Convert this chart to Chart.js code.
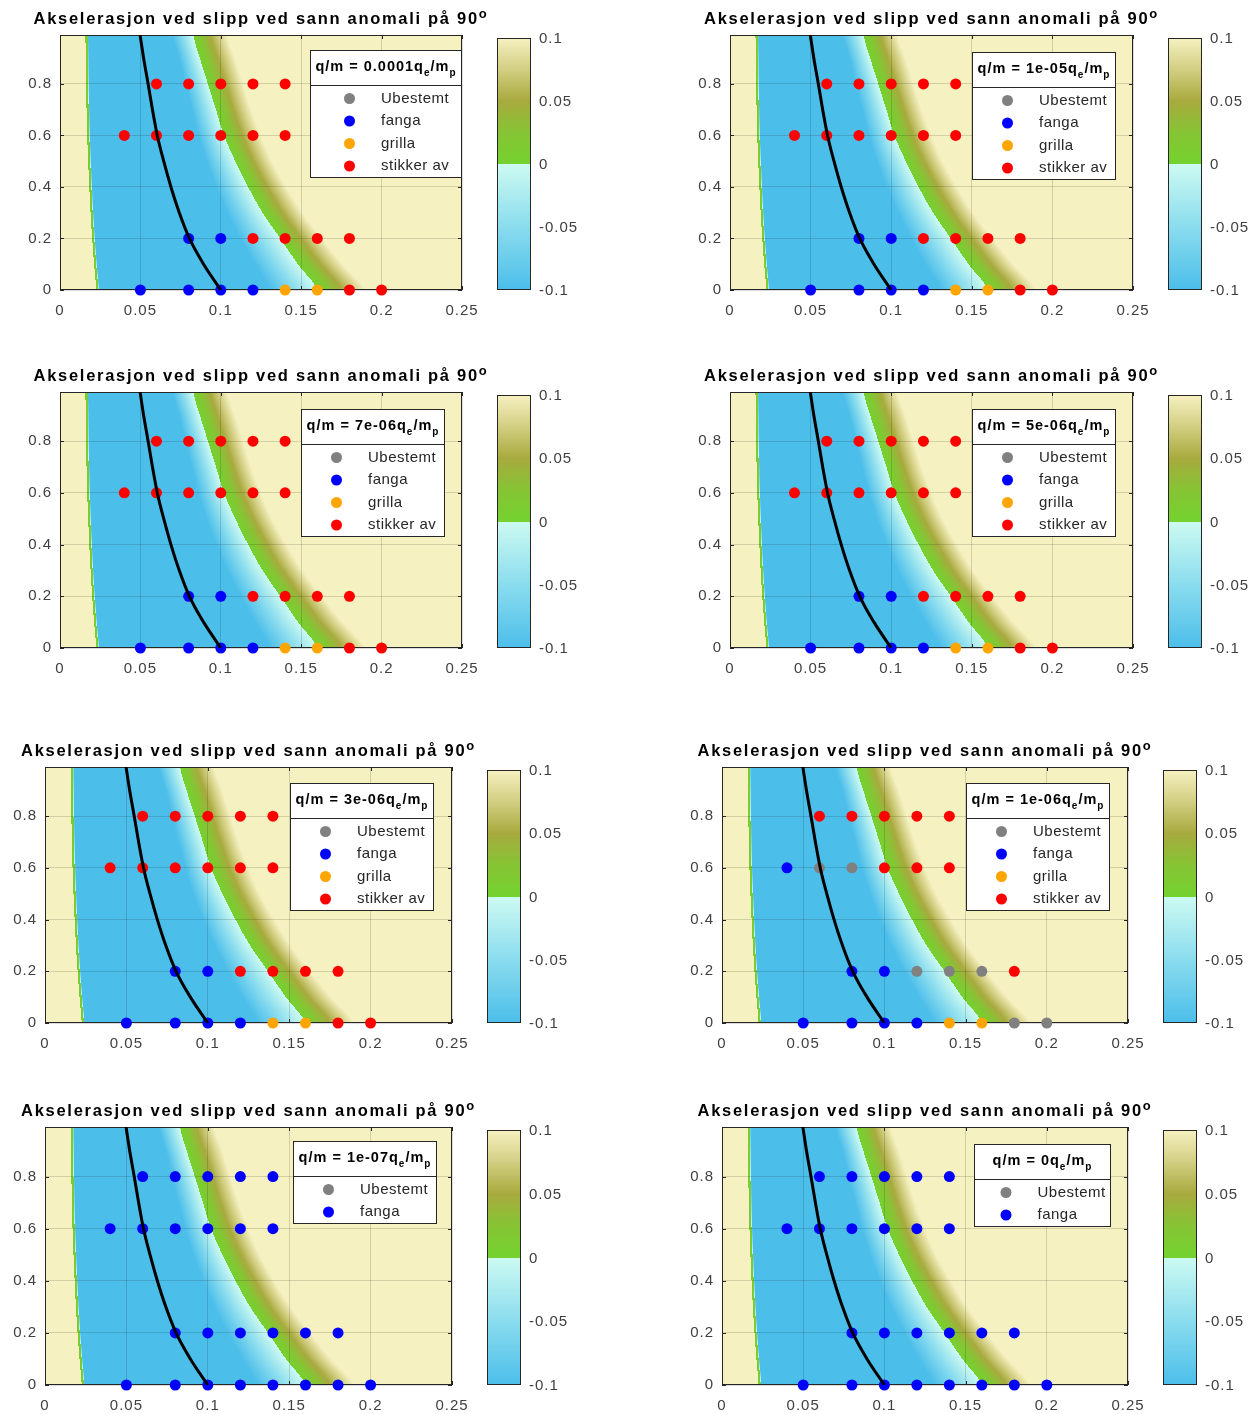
<!DOCTYPE html>
<html lang="no">
<head>
<meta charset="utf-8">
<title>Akselerasjon ved slipp ved sann anomali på 90°</title>
<script src="https://cdn.jsdelivr.net/npm/chart.js@4.4.1/dist/chart.umd.min.js"></script>
<style>
  html, body { margin: 0; padding: 0; background: #fff; }
  #side { position: relative; width: 1258px; height: 1414px; overflow: hidden; }
  #side canvas { position: absolute; }
</style>
</head>
<body>
<div id="side"></div>
<script>
// Startpunkt for banene (samme rutenett i alle panelene)
const startX = [0.06, 0.08, 0.10, 0.12, 0.14,
                0.04, 0.06, 0.08, 0.10, 0.12, 0.14,
                0.08, 0.10, 0.12, 0.14, 0.16, 0.18,
                0.05, 0.08, 0.10, 0.12, 0.14, 0.16, 0.18, 0.20];
const startY = [0.8, 0.8, 0.8, 0.8, 0.8,
                0.6, 0.6, 0.6, 0.6, 0.6, 0.6,
                0.2, 0.2, 0.2, 0.2, 0.2, 0.2,
                0, 0, 0, 0, 0, 0, 0, 0];

// Utfall for hvert startpunkt: 0 = Ubestemt, 1 = fanga, 2 = grilla, 3 = stikker av
const utfall_1e4 = [3, 3, 3, 3, 3,  3, 3, 3, 3, 3, 3,  1, 1, 3, 3, 3, 3,  1, 1, 1, 1, 2, 2, 3, 3];
const utfall_1e5 = [3, 3, 3, 3, 3,  3, 3, 3, 3, 3, 3,  1, 1, 3, 3, 3, 3,  1, 1, 1, 1, 2, 2, 3, 3];
const utfall_7e6 = [3, 3, 3, 3, 3,  3, 3, 3, 3, 3, 3,  1, 1, 3, 3, 3, 3,  1, 1, 1, 1, 2, 2, 3, 3];
const utfall_5e6 = [3, 3, 3, 3, 3,  3, 3, 3, 3, 3, 3,  1, 1, 3, 3, 3, 3,  1, 1, 1, 1, 2, 2, 3, 3];
const utfall_3e6 = [3, 3, 3, 3, 3,  3, 3, 3, 3, 3, 3,  1, 1, 3, 3, 3, 3,  1, 1, 1, 1, 2, 2, 3, 3];
const utfall_1e6 = [3, 3, 3, 3, 3,  1, 0, 0, 3, 3, 3,  1, 1, 0, 0, 0, 3,  1, 1, 1, 1, 2, 2, 0, 0];
const utfall_1e7 = [1, 1, 1, 1, 1,  1, 1, 1, 1, 1, 1,  1, 1, 1, 1, 1, 1,  1, 1, 1, 1, 1, 1, 1, 1];
const utfall_0   = [1, 1, 1, 1, 1,  1, 1, 1, 1, 1, 1,  1, 1, 1, 1, 1, 1,  1, 1, 1, 1, 1, 1, 1, 1];

const qmVerdier = ['0.0001', '1e-05', '7e-06', '5e-06', '3e-06', '1e-06', '1e-07', '0'];
const utfallListe = [utfall_1e4, utfall_1e5, utfall_7e6, utfall_5e6, utfall_3e6, utfall_1e6, utfall_1e7, utfall_0];

const kategorier = ['Ubestemt', 'fanga', 'grilla', 'stikker av'];
const kategoriFarger = ['#808080', '#0000ff', '#ffa500', '#ff0000'];

// Svart kurve (x stigende, y synkende)
const kurveX = [0.0498, 0.0520, 0.0548, 0.0575, 0.0605, 0.0645, 0.0690, 0.0742, 0.0805, 0.0893, 0.1000];
const kurveY = [0.99, 0.9, 0.8, 0.7, 0.6, 0.5, 0.4, 0.3, 0.2, 0.1, 0];

// Akselerasjonsfeltet, gitt som konturer (x-posisjon) for hver y-rad
const feltY    = [0, 0.1, 0.2, 0.3, 0.4, 0.5, 0.6, 0.7, 0.8, 0.9, 0.99];
const feltKant = [0.0238, 0.0225, 0.0213, 0.0203, 0.0195, 0.0188, 0.0182, 0.0178, 0.0175, 0.0173, 0.0171]; // hopp + -> -
const feltBlaa = [0.130, 0.121, 0.112, 0.104, 0.097, 0.091, 0.086, 0.082, 0.078, 0.074, 0.070];           // a = -0.1
const feltNull = [0.160, 0.148, 0.137, 0.126, 0.117, 0.109, 0.102, 0.097, 0.092, 0.087, 0.083];           // a = 0
const feltGul  = [0.190, 0.176, 0.163, 0.151, 0.141, 0.132, 0.125, 0.119, 0.114, 0.109, 0.104];           // a = +0.1

// Fargeskala
const skalaVerdi = [-0.1, -0.05, 0, 0, 0.025, 0.05, 0.075, 0.1];
const skalaRGB = [[76, 190, 234], [138, 220, 238], [205, 250, 241],
                  [116, 210, 46], [134, 196, 52], [168, 170, 62], [210, 206, 130], [246, 241, 193]];
const skalaTicks = [0.1, 0.05, 0, -0.05, -0.1];

// Plassering av lerretene og plottområdene på siden
const kolonner = [{ x: 0, w: 629 }, { x: 640, w: 618 }];
const rader = [{ y: 0, h: 340 }, { y: 352, h: 360 }, { y: 722, h: 355 }, { y: 1080, h: 334 }];
const plottOmr = [[60, 35, 462, 290], [730, 35, 1133, 290],
                  [60, 392, 462, 648], [730, 392, 1133, 648],
                  [45, 767, 452, 1023], [722, 767, 1128, 1023],
                  [45, 1127, 452, 1385], [722, 1127, 1128, 1385]];
const legendeInnrykk = [[0, 15], [17, 17], [17, 17], [17, 17], [18, 16], [18, 16], [15, 14], [17, 17]];

const FONT = '"Liberation Sans", Arial, Helvetica, sans-serif';
const TITTEL = 'Akselerasjon ved slipp ved sann anomali på 90';
const Y_AKSE_B = 40;
const X_AKSE_H = 26;

function fargeFor(v) {
    v = Math.max(-0.1, Math.min(0.1, v));
    const [a, b] = v < 0 ? [0, 2] : [3, 7];
    for (let k = a; k < b; k++) {
        if (v <= skalaVerdi[k + 1]) {
            const t = (v - skalaVerdi[k]) / (skalaVerdi[k + 1] - skalaVerdi[k]);
            return skalaRGB[k].map((c, n) => c + (skalaRGB[k + 1][n] - c) * t);
        }
    }
    return skalaRGB[b];
}

// Glatt (Catmull-Rom) mellom radene, så konturene ikke får knekk
function langsY(arr, y) {
    const n = feltY.length;
    if (y <= feltY[0]) return arr[0];
    if (y >= feltY[n - 1]) return arr[n - 1];
    let k = 0;
    while (y > feltY[k + 1]) k++;
    const t = (y - feltY[k]) / (feltY[k + 1] - feltY[k]);
    const p0 = arr[Math.max(k - 1, 0)], p1 = arr[k], p2 = arr[k + 1], p3 = arr[Math.min(k + 2, n - 1)];
    return 0.5 * (2 * p1 + (-p0 + p2) * t + (2 * p0 - 5 * p1 + 4 * p2 - p3) * t * t +
                  (-p0 + 3 * p1 - 3 * p2 + p3) * t * t * t);
}

function feltVerdi(x, kant, blaa, null0, gul) {
    if (x < kant - 0.0013) return 0.2;          // langt over skalaen
    if (x < kant) return 0.01;                  // smal grønn stripe ved hoppet
    if (x < blaa) return -0.1 * Math.min(1, (x - kant) / 0.0006);
    if (x < null0) return -0.1 * (null0 - x) / (null0 - blaa);
    return 0.1 * (x - null0) / (gul - null0);
}

// 🔹 Bakgrunnsfeltet tegnes piksel for piksel via skalaene
function tegnFelt(chart) {
    const { ctx, chartArea: a, scales } = chart;
    const w = Math.round(a.right - a.left), h = Math.round(a.bottom - a.top);
    const bilde = document.createElement('canvas');
    bilde.width = w;
    bilde.height = h;
    const bctx = bilde.getContext('2d');
    const img = bctx.createImageData(w, h);
    for (let j = 0; j < h; j++) {
        const yv = scales.y.getValueForPixel(a.top + j + 0.5);
        const kant = langsY(feltKant, yv), blaa = langsY(feltBlaa, yv);
        const n0 = langsY(feltNull, yv), gul = langsY(feltGul, yv);
        for (let i = 0; i < w; i++) {
            const xv = scales.x.getValueForPixel(a.left + i + 0.5);
            const c = fargeFor(feltVerdi(xv, kant, blaa, n0, gul));
            const p = (j * w + i) * 4;
            img.data[p] = c[0];
            img.data[p + 1] = c[1];
            img.data[p + 2] = c[2];
            img.data[p + 3] = 255;
        }
    }
    bctx.putImageData(img, 0, 0);
    ctx.drawImage(bilde, a.left, a.top);
}

function tegnRamme(chart) {
    const { ctx, chartArea: a, scales: { x, y } } = chart;
    ctx.save();
    ctx.strokeStyle = '#262626';
    ctx.lineWidth = 1;
    ctx.beginPath();
    x.ticks.forEach(t => {
        const px = Math.round(x.getPixelForValue(t.value)) + 0.5;
        ctx.moveTo(px, a.bottom); ctx.lineTo(px, a.bottom - 4);
        ctx.moveTo(px, a.top); ctx.lineTo(px, a.top + 4);
    });
    y.ticks.forEach(t => {
        const py = Math.round(y.getPixelForValue(t.value)) + 0.5;
        ctx.moveTo(a.left, py); ctx.lineTo(a.left + 4, py);
        ctx.moveTo(a.right, py); ctx.lineTo(a.right - 4, py);
    });
    ctx.stroke();
    ctx.strokeRect(a.left + 0.5, a.top + 0.5, a.right - a.left - 1, a.bottom - a.top - 1);
    ctx.restore();
}

function tegnTittel(chart) {
    const { ctx, chartArea: a } = chart;
    ctx.save();
    ctx.fillStyle = '#000';
    ctx.textBaseline = 'alphabetic';
    ctx.textAlign = 'left';
    ctx.letterSpacing = '1.7px';
    ctx.font = `bold 16.5px ${FONT}`;
    const w1 = ctx.measureText(TITTEL).width;
    ctx.font = `bold 13px ${FONT}`;
    const w2 = ctx.measureText('o').width;
    const x0 = (a.left + a.right) / 2 - (w1 + w2) / 2;
    const grunn = a.top - 11.5;
    ctx.font = `bold 16.5px ${FONT}`;
    ctx.fillText(TITTEL, x0, grunn);
    ctx.font = `bold 13px ${FONT}`;
    ctx.fillText('o', x0 + w1, grunn - 6);
    ctx.restore();
}

function tegnFargeskala(chart) {
    const { ctx, chartArea: a } = chart;
    const venstre = a.right + 35, bredde = 34, topp = a.top + 3, bunn = a.bottom;
    const h = bunn - topp;
    const vMaks = skalaVerdi[skalaVerdi.length - 1], vMin = skalaVerdi[0];
    ctx.save();
    for (let j = 0; j < h; j++) {
        const v = vMaks - (j + 0.5) / h * (vMaks - vMin);
        const c = fargeFor(v).map(Math.round);
        ctx.fillStyle = `rgb(${c[0]},${c[1]},${c[2]})`;
        ctx.fillRect(venstre, topp + j, bredde, 1);
    }
    ctx.strokeStyle = '#262626';
    ctx.lineWidth = 1;
    ctx.strokeRect(venstre + 0.5, topp + 0.5, bredde - 1, h - 1);
    ctx.fillStyle = '#404040';
    ctx.font = `15px ${FONT}`;
    ctx.letterSpacing = '1px';
    ctx.textAlign = 'left';
    ctx.textBaseline = 'middle';
    skalaTicks.forEach(v => {
        const py = topp + (vMaks - v) / (vMaks - vMin) * h;
        ctx.fillText(String(v), venstre + bredde + 8, py + 1);
    });
    ctx.restore();
}

function tegnLegende(chart, qm, innrykk) {
    const { ctx, chartArea: a } = chart;
    const deler = [['q/m = ' + qm + 'q', false], ['e', true], ['/m', false], ['p', true]];
    const fontFor = sub => sub ? `bold 10px ${FONT}` : `bold 14.5px ${FONT}`;
    ctx.save();
    ctx.letterSpacing = '1px';
    let tittelB = 0;
    deler.forEach(([t, s]) => { ctx.font = fontFor(s); tittelB += ctx.measureText(t).width; });
    const boksB = Math.max(137, Math.round(tittelB + 11));
    const elementer = chart.data.datasets.filter(d => d.kategori !== undefined);
    const boksH = Math.round(35 + 13.5 + 22.5 * (elementer.length - 1) + 12);
    const hoyre = a.right - innrykk[0], venstre = hoyre - boksB, topp = a.top + innrykk[1];

    ctx.fillStyle = '#fff';
    ctx.fillRect(venstre, topp, boksB, boksH);
    ctx.strokeStyle = '#262626';
    ctx.lineWidth = 1;
    ctx.strokeRect(venstre + 0.5, topp + 0.5, boksB - 1, boksH - 1);
    ctx.beginPath();
    ctx.moveTo(venstre, topp + 35.5);
    ctx.lineTo(hoyre, topp + 35.5);
    ctx.stroke();

    let tx = venstre + (boksB - tittelB) / 2;
    ctx.fillStyle = '#000';
    ctx.textBaseline = 'alphabetic';
    deler.forEach(([t, s]) => {
        ctx.font = fontFor(s);
        ctx.fillText(t, tx, topp + (s ? 26 : 21));
        tx += ctx.measureText(t).width;
    });

    const markX = venstre + 36 + (boksB - 145) / 2;
    ctx.textBaseline = 'middle';
    ctx.font = `15px ${FONT}`;
    ctx.letterSpacing = '0.5px';
    elementer.forEach((d, i) => {
        const yy = topp + 35 + 13.5 + 22.5 * i;
        ctx.beginPath();
        ctx.arc(markX, yy, 5.5, 0, 2 * Math.PI);
        ctx.fillStyle = d.backgroundColor;
        ctx.fill();
        ctx.fillStyle = '#262626';
        ctx.fillText(d.label, markX + 31.5, yy);
    });
    ctx.restore();
}

// Tall som 0.1 og 0.2, ikke 0.10 og 0.20
const tickTekst = v => String(Number(v.toFixed(4)));

function lagPanel(indeks) {
    const kol = kolonner[indeks % 2], rad = rader[Math.floor(indeks / 2)];
    const [pl, pt, pr, pb] = plottOmr[indeks];
    const utfall = utfallListe[indeks];

    const canvas = document.createElement('canvas');
    canvas.width = kol.w;
    canvas.height = rad.h;
    canvas.style.left = kol.x + 'px';
    canvas.style.top = rad.y + 'px';
    canvas.style.width = kol.w + 'px';
    canvas.style.height = rad.h + 'px';
    document.getElementById('side').appendChild(canvas);

    const datasets = [{
        type: 'line',
        label: 'kurve',
        data: kurveX.map((x, i) => ({ x, y: kurveY[i] })),
        borderColor: '#000',
        borderWidth: 3,
        pointRadius: 0,
        showLine: true,
        cubicInterpolationMode: 'monotone',
        order: 0
    }];
    const maksKat = Math.max(...utfall);
    for (let k = 0; k <= maksKat; k++) {
        datasets.push({
            type: 'scatter',
            label: kategorier[k],
            kategori: k,
            data: startX.map((x, i) => ({ x, y: startY[i], k: utfall[i] })).filter(p => p.k === k),
            backgroundColor: kategoriFarger[k],
            borderColor: kategoriFarger[k],
            borderWidth: 0,
            pointRadius: 5.5,
            pointHoverRadius: 5.5,
            clip: false,
            order: 1
        });
    }

    const panelPlugin = {
        id: 'panel' + indeks,
        beforeDraw(chart) {
            tegnFelt(chart);
            chart.ctx.letterSpacing = '1px';
        },
        beforeDatasetsDraw(chart) {
            tegnRamme(chart);
        },
        afterDraw(chart) {
            tegnTittel(chart);
            tegnFargeskala(chart);
            tegnLegende(chart, qmVerdier[indeks], legendeInnrykk[indeks]);
        }
    };

    const rutenett = { color: 'rgba(0,0,0,0.14)', drawTicks: false };
    const tickFont = { size: 15, family: FONT };

    new Chart(canvas.getContext('2d'), {
        type: 'scatter',
        data: { datasets },
        options: {
            responsive: false,
            animation: false,
            devicePixelRatio: 1,
            events: [],
            layout: {
                padding: {
                    left: pl - kol.x - Y_AKSE_B,
                    top: pt - rad.y,
                    right: kol.x + kol.w - pr,
                    bottom: rad.y + rad.h - pb - X_AKSE_H
                }
            },
            plugins: {
                legend: { display: false },
                tooltip: { enabled: false },
                title: { display: false }
            },
            scales: {
                x: {
                    type: 'linear',
                    min: 0,
                    max: 0.25,
                    afterFit: s => { s.height = X_AKSE_H; },
                    ticks: { stepSize: 0.05, padding: 12, color: '#404040', font: tickFont, maxRotation: 0, callback: tickTekst },
                    grid: rutenett,
                    border: { display: false }
                },
                y: {
                    type: 'linear',
                    min: 0,
                    max: 0.99,
                    afterFit: s => { s.width = Y_AKSE_B; },
                    ticks: { stepSize: 0.2, includeBounds: false, padding: 8, color: '#404040', font: tickFont, callback: tickTekst },
                    grid: rutenett,
                    border: { display: false }
                }
            }
        },
        plugins: [panelPlugin]
    });
}

document.addEventListener('DOMContentLoaded', () => {
    Chart.defaults.font.family = FONT;
    for (let i = 0; i < qmVerdier.length; i++) {
        lagPanel(i);
    }
});
</script>
</body>
</html>
